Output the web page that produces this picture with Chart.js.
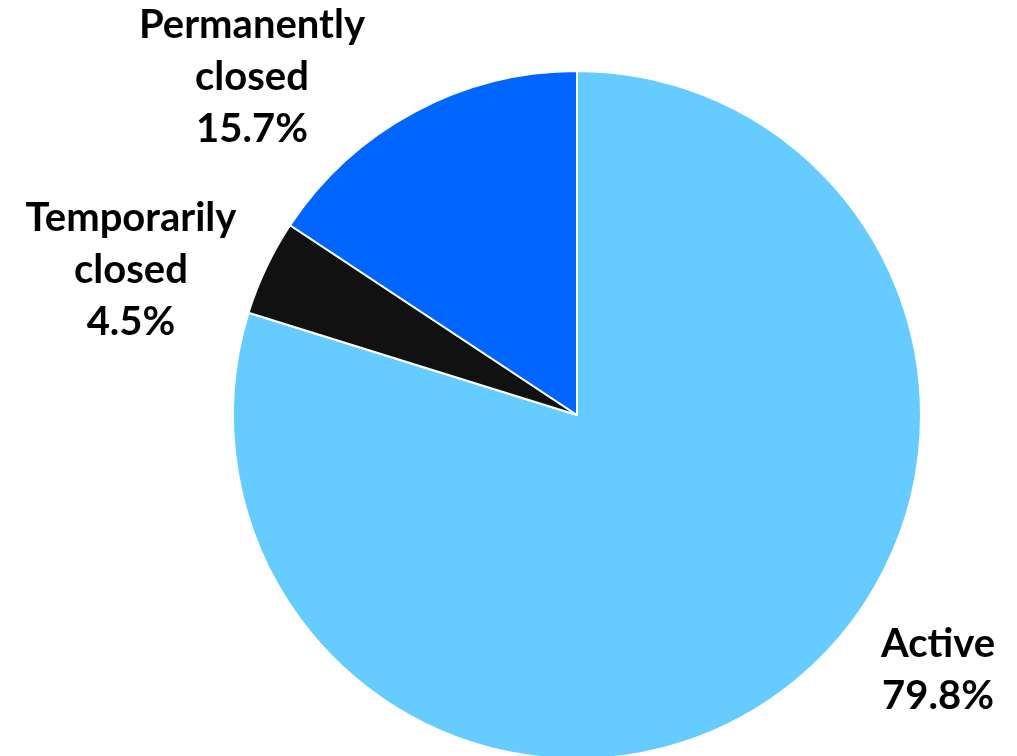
<!DOCTYPE html>
<html>
<head>
<meta charset="utf-8">
<script src="https://cdn.jsdelivr.net/npm/chart.js@4/dist/chart.umd.min.js"></script>
<style>
  html, body { margin: 0; padding: 0; background: #fff; overflow: hidden; }
  #wrap { position: absolute; left: 0; top: 0; width: 1017px; height: 800px; }
</style>
</head>
<body>
<div id="wrap"><canvas id="c"></canvas></div>
<script>
// Business status shares
const categories = ['Active', 'Temporarily closed', 'Permanently closed'];
const shares = [79.8, 4.5, 15.7];
const sliceColors = ['#66CCFF', '#111111', '#0066FF'];
const labelLines = [['Active'], ['Temporarily', 'closed'], ['Permanently', 'closed']];

// Label anchor (centre x, first baseline y) for each slice
const labelAnchors = [
  { x: 938, y: 657 },
  { x: 131, y: 231 },
  { x: 252, y: 38 }
];

const labelPlugin = {
  id: 'sliceLabels',
  afterDraw(chart) {
    const ctx = chart.ctx;
    ctx.save();
    ctx.font = 'bold 40px Lato, "DejaVu Sans", sans-serif';
    ctx.fillStyle = '#000';
    ctx.textAlign = 'center';
    ctx.textBaseline = 'alphabetic';
    const lineH = 52;
    shares.forEach((v, i) => {
      const lines = labelLines[i].concat([v.toFixed(1) + '%']);
      const a = labelAnchors[i];
      lines.forEach((t, k) => ctx.fillText(t, a.x, a.y + k * lineH));
    });
    ctx.restore();
  }
};

new Chart(document.getElementById('c'), {
  type: 'pie',
  data: {
    labels: categories,
    datasets: [{
      data: shares,
      backgroundColor: sliceColors,
      borderColor: '#ffffff',
      borderWidth: 2
    }]
  },
  options: {
    responsive: true,
    maintainAspectRatio: false,
    animation: false,
    layout: { padding: { left: 232, right: 95, top: 70, bottom: 40 } },
    plugins: {
      legend: { display: false },
      tooltip: { enabled: false }
    }
  },
  plugins: [labelPlugin]
});
</script>
</body>
</html>
